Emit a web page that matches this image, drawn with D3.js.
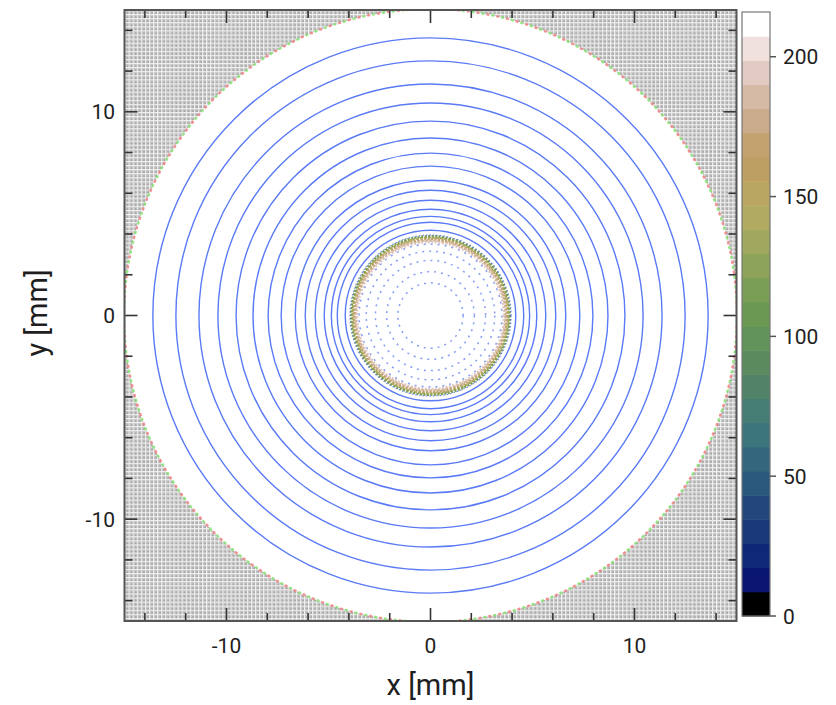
<!DOCTYPE html>
<html>
<head>
<meta charset="utf-8">
<script src="https://cdn.jsdelivr.net/npm/d3@7"></script>
<style>
  body { margin: 0; background: #fff; }
  svg text { font-family: Roboto, "Liberation Sans", sans-serif; fill: #1e1e1e; }
</style>
</head>
<body>
<div id="chart"></div>
<script>
// plot data (mm)
var discRadius = 15
var innerRadius = 3.95
var ringRadii = [4.18, 4.57, 4.86, 5.21, 5.65, 6.14, 6.63, 7.32, 7.96, 8.70, 9.53, 10.42, 11.35, 12.48, 13.61]
var innerDotRadii = [1.6, 2.15, 2.7, 3.15, 3.5]
// shell of the inner disc edge: radius, bin content
var shellRadii = [3.52, 3.6, 3.68, 3.75, 3.82, 3.89]
var shellValues = [208, 196, 182, 165, 140, 120]
var majorTicks = [-10, 0, 10]
var minorTicks = [-14, -12, -8, -6, -4, -2, 2, 4, 6, 8, 12, 14]
// colour bar
var zMax = 216
var zTicks = [0, 50, 100, 150, 200]
var paletteColors = ["#000000", "#0b1670", "#0f2878", "#19397a", "#22487b", "#2a587c", "#33677e", "#3c757c",
	"#467d74", "#518369", "#5a8a5e", "#62935a", "#6b9953", "#7a9e55", "#8ca359", "#9fa85e", "#b0ab60",
	"#b9a761", "#bd9f63", "#c4a270", "#caac8c", "#d5baa6", "#e1cbc2", "#f1e1de", "#ffffff"]

var width = 836, height = 705
var svg = d3.select('#chart').append('svg')
	.attr('width', width)
	.attr('height', height)

var x = d3.scaleLinear().domain([-15, 15]).range([124.5, 736.5])
var y = d3.scaleLinear().domain([-15, 15]).range([621, 10])
var r = function(v){ return x(v) - x(0) }

var defs = svg.append('defs')
defs.append('clipPath').attr('id', 'plotClip')
	.append('rect')
	.attr('x', x(-15)).attr('y', y(15))
	.attr('width', x(15) - x(-15)).attr('height', y(-15) - y(15))

// empty bins background
var cell = r(0.2) - r(0)
var pat = defs.append('pattern').attr('id', 'bins')
	.attr('patternUnits', 'userSpaceOnUse')
	.attr('x', x(-15)).attr('y', y(15))
	.attr('width', cell).attr('height', cell)
pat.append('rect').attr('width', cell).attr('height', cell).attr('fill', '#a9a9a9')
pat.append('rect').attr('width', cell).attr('height', 1).attr('fill', '#f2f2f2')
pat.append('rect').attr('width', 1).attr('height', cell).attr('fill', '#f2f2f2')
pat.append('rect').attr('x', 1).attr('y', 1).attr('width', 1).attr('height', cell - 1).attr('fill', '#cdcdcd')
pat.append('rect').attr('x', 1).attr('y', 1).attr('width', cell - 1).attr('height', 1).attr('fill', '#cdcdcd')

var plot = svg.append('g').attr('clip-path', 'url(#plotClip)')
plot.append('rect')
	.attr('x', x(-15)).attr('y', y(15))
	.attr('width', x(15) - x(-15)).attr('height', y(-15) - y(15))
	.attr('fill', 'url(#bins)')

// disc edge speckle
plot.append('circle').attr('cx', x(0)).attr('cy', y(0)).attr('r', r(discRadius) + 0.5)
	.attr('fill', '#fff').attr('stroke', '#f08080').attr('stroke-width', 2.5)
	.attr('stroke-dasharray', '3 7').attr('stroke-opacity', 0.85)
plot.append('circle').attr('cx', x(0)).attr('cy', y(0)).attr('r', r(discRadius) + 0.5)
	.attr('fill', 'none').attr('stroke', '#86e070').attr('stroke-width', 2.5)
	.attr('stroke-dasharray', '3 7').attr('stroke-dashoffset', 5).attr('stroke-opacity', 0.85)
plot.append('circle').attr('cx', x(0)).attr('cy', y(0)).attr('r', r(discRadius) - 1.2)
	.attr('fill', '#fff')

var zColor = d3.scaleQuantize().domain([0, zMax]).range(paletteColors)

// inner disc edge
plot.selectAll('.shell').data(shellRadii).enter()
	.append('circle')
	.attr('class', 'shell')
	.attr('cx', x(0)).attr('cy', y(0))
	.attr('r', function(d){ return r(d) })
	.attr('fill', 'none')
	.attr('stroke', function(d, i){ return zColor(shellValues[i]) })
	.attr('stroke-width', 2.4)
	.attr('stroke-dasharray', function(d, i){ return i % 2 ? '2 1.5' : '3 1' })

plot.append('circle').attr('cx', x(0)).attr('cy', y(0)).attr('r', r(innerRadius))
	.attr('fill', 'none').attr('stroke', '#5470e8').attr('stroke-width', 1.2)
	.attr('stroke-dasharray', '1.5 2').attr('opacity', 0.8)

plot.selectAll('.dotRing').data(innerDotRadii).enter()
	.append('circle')
	.attr('class', 'dotRing')
	.attr('cx', x(0)).attr('cy', y(0))
	.attr('r', function(d){ return r(d) })
	.attr('fill', 'none')
	.attr('stroke', '#6a84f0')
	.attr('stroke-width', 1.5)
	.attr('stroke-dasharray', '2 5')
	.attr('opacity', 0.8)

// trajectory rings
plot.selectAll('.ring').data(ringRadii).enter()
	.append('circle')
	.attr('class', 'ring')
	.attr('cx', x(0)).attr('cy', y(0))
	.attr('r', function(d){ return r(d) })
	.attr('fill', 'none')
	.attr('stroke', '#5a7af6')
	.attr('stroke-width', 1.4)

// ticks on all sides
var tickCol = '#333'
function ticks(list, len){
	var g = svg.append('g').attr('stroke', tickCol).attr('stroke-width', 1.6)
	list.forEach(function(t){
		g.append('line').attr('x1', x(t)).attr('x2', x(t)).attr('y1', y(-15)).attr('y2', y(-15) - len)
		g.append('line').attr('x1', x(t)).attr('x2', x(t)).attr('y1', y(15)).attr('y2', y(15) + len)
		g.append('line').attr('y1', y(t)).attr('y2', y(t)).attr('x1', x(-15)).attr('x2', x(-15) + len)
		g.append('line').attr('y1', y(t)).attr('y2', y(t)).attr('x1', x(15)).attr('x2', x(15) - len)
	})
}
ticks(minorTicks, 8)
ticks(majorTicks, 13)

svg.append('rect')
	.attr('x', x(-15)).attr('y', y(15))
	.attr('width', x(15) - x(-15)).attr('height', y(-15) - y(15))
	.attr('fill', 'none').attr('stroke', '#555').attr('stroke-width', 2)

svg.selectAll('.xlab').data(majorTicks).enter()
	.append('text').attr('class', 'xlab')
	.attr('x', function(d){ return x(d) })
	.attr('y', 653)
	.attr('text-anchor', 'middle')
	.style('font-size', '21px')
	.text(function(d){ return d })

svg.selectAll('.ylab').data(majorTicks).enter()
	.append('text').attr('class', 'ylab')
	.attr('x', 115)
	.attr('y', function(d){ return y(d) + 7.5 })
	.attr('text-anchor', 'end')
	.style('font-size', '21px')
	.text(function(d){ return d })

svg.append('text')
	.attr('x', x(0)).attr('y', 695)
	.attr('text-anchor', 'middle')
	.style('font-size', '29px')
	.text('x [mm]')

svg.append('text')
	.attr('transform', 'translate(47,313) rotate(-90)')
	.attr('text-anchor', 'middle')
	.style('font-size', '29px')
	.text('y [mm]')

// colour bar
var z = d3.scaleLinear().domain([0, zMax]).range([616, 12])
var barX = 742, barW = 28
var bandW = zMax / paletteColors.length
svg.selectAll('.band').data(paletteColors).enter()
	.append('rect').attr('class', 'band')
	.attr('x', barX)
	.attr('y', function(d, i){ return z((i + 1) * bandW) })
	.attr('width', barW)
	.attr('height', function(d, i){ return z(i * bandW) - z((i + 1) * bandW) + 0.5 })
	.attr('fill', function(d){ return d })
svg.append('rect')
	.attr('x', barX).attr('y', z(zMax))
	.attr('width', barW).attr('height', z(0) - z(zMax))
	.attr('fill', 'none').attr('stroke', '#777').attr('stroke-width', 1.2)

var zAxis = svg.append('g')
zAxis.selectAll('line').data(zTicks).enter()
	.append('line')
	.attr('x1', barX + barW).attr('x2', barX + barW + 6)
	.attr('y1', function(d){ return z(d) }).attr('y2', function(d){ return z(d) })
	.attr('stroke', '#555').attr('stroke-width', 1.5)
zAxis.selectAll('text').data(zTicks).enter()
	.append('text')
	.attr('x', 783)
	.attr('y', function(d){ return z(d) + 7.5 })
	.style('font-size', '21px')
	.text(function(d){ return d })
</script>
</body>
</html>
